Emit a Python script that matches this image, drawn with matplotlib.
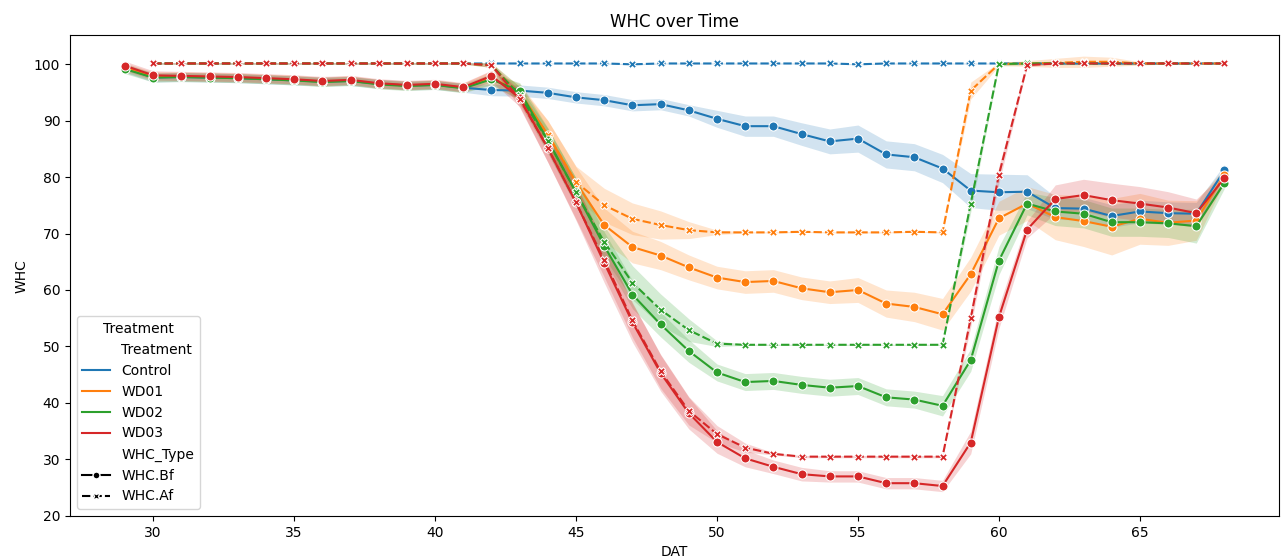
import numpy as np
import matplotlib.pyplot as plt
from matplotlib.lines import Line2D

days = list(range(29, 69))
treatments = ['Control', 'WD01', 'WD02', 'WD03']
colors = ['#1f77b4', '#ff7f0e', '#2ca02c', '#d62728']
nan = np.nan

# WHC.Bf means (days 29..68)
bf = {
    'Control': [99.3, 97.6, 97.7, 97.6, 97.5, 97.3, 97.1, 96.9, 97.0, 96.5, 96.2, 96.3, 95.8,
                95.4, 95.3, 94.9, 94.1, 93.6, 92.7, 92.9, 91.8, 90.3, 89.0, 89.0, 87.6, 86.3,
                86.8, 84.0, 83.5, 81.5, 77.6, 77.3, 77.4, 74.5, 74.4, 73.1, 73.9, 73.6, 73.5, 81.2],
    'WD01': [99.4, 97.8, 97.8, 97.7, 97.6, 97.4, 97.2, 96.9, 97.1, 96.5, 96.2, 96.4, 95.8,
             97.6, 95.0, 87.5, 79.0, 71.5, 67.6, 66.1, 64.0, 62.2, 61.4, 61.6, 60.3, 59.6,
             60.0, 57.6, 57.0, 55.7, 62.8, 72.7, 75.3, 72.9, 72.2, 71.2, 72.6, 71.9, 72.3, 80.4],
    'WD02': [99.1, 97.6, 97.7, 97.6, 97.5, 97.3, 97.1, 96.8, 97.0, 96.4, 96.1, 96.3, 95.7,
             97.3, 95.2, 86.5, 77.3, 67.8, 59.2, 53.9, 49.2, 45.4, 43.7, 43.9, 43.2, 42.7,
             43.0, 41.0, 40.6, 39.5, 47.6, 65.2, 75.3, 73.9, 73.5, 72.0, 72.0, 71.8, 71.3, 79.0],
    'WD03': [99.7, 98.0, 97.9, 97.8, 97.7, 97.5, 97.3, 97.0, 97.2, 96.6, 96.3, 96.5, 95.9,
             97.9, 94.0, 85.1, 75.5, 64.8, 54.3, 45.3, 38.2, 33.1, 30.2, 28.7, 27.4, 27.0,
             27.0, 25.8, 25.8, 25.3, 33.0, 55.2, 70.7, 76.1, 76.8, 75.9, 75.3, 74.6, 73.6, 79.8],
}
# WHC.Bf CI half widths
bf_ci = {
    'Control': [0.8]*13 + [1.0]*8 + [1.5, 1.8, 1.8, 2.0, 2.2, 2.4, 2.4, 2.4, 2.5] + [3.0, 3.2, 3.0] + [2.0]*6 + [1.0],
    'WD01': [0.8]*13 + [1.2, 1.5, 2.5, 2.8, 3.0, 2.8, 2.5, 2.2, 2.0, 2.0, 2.0, 2.0, 2.0, 2.2, 2.4, 2.6, 2.8,
                        3.0, 3.0, 3.0, 4.0, 4.5, 5.0, 4.5, 4.0, 3.5, 1.2],
    'WD02': [0.8]*13 + [1.0, 1.5, 2.2, 2.5, 2.5, 2.5, 2.2, 2.0, 1.5, 1.5, 1.5, 1.5, 1.5, 1.5, 1.5, 1.5, 1.8,
                        2.0, 2.5, 2.0, 2.5, 2.5, 2.5, 2.5, 2.5, 3.0, 1.0],
    'WD03': [0.8]*13 + [1.0, 1.5, 2.5, 3.2, 3.5, 3.5, 3.2, 2.8, 2.0, 1.5, 1.2, 1.2, 1.0, 1.0, 1.0, 1.0, 1.0,
                        2.0, 2.0, 1.5, 2.5, 2.8, 3.0, 3.0, 2.8, 2.5, 1.0],
}
# WHC.Af means (no reading on day 29)
af = {
    'Control': [nan] + [100.1]*17 + [99.95, 100.1, 100.1, 100.1, 100.1, 100.1, 100.1, 100.1, 99.95]
               + [100.1]*13,
    'WD01': [nan] + [100.1]*12 + [99.8, 94.5, 87.5, 79.1, 75.0, 72.6, 71.5, 70.6, 70.2, 70.2, 70.2,
                                  70.3, 70.2, 70.2, 70.2, 70.3, 70.2, 95.3, 100.0, 100.1,
                                  100.2, 100.4, 100.4, 100.1, 100.1, 100.1, 100.1],
    'WD02': [nan] + [100.1]*12 + [99.8, 94.5, 86.4, 77.3, 68.5, 61.3, 56.5, 52.9, 50.5, 50.3, 50.3,
                                  50.3, 50.3, 50.3, 50.3, 50.3, 50.3, 75.3, 100.0, 100.1,
                                  100.1, 100.1, 100.1, 100.1, 100.1, 100.1, 100.1],
    'WD03': [nan] + [100.1]*12 + [99.8, 93.8, 85.1, 75.5, 65.3, 54.6, 45.6, 38.6, 34.5, 32.1, 31.0,
                                  30.5, 30.5, 30.5, 30.5, 30.5, 30.5, 55.0, 80.4, 99.8,
                                  100.1, 100.1, 100.1, 100.1, 100.1, 100.1, 100.1],
}
af_ci = {
    'Control': [0.0] + [0.1]*39,
    'WD01': [0.0] + [0.1]*12 + [0.4, 1.5, 2.5, 2.8, 3.0, 2.8, 2.5, 1.5, 0.4] + [0.1]*8
            + [1.5, 0.3, 0.5, 0.8, 1.0, 0.8, 0.3, 0.1, 0.1, 0.1],
    'WD02': [0.0] + [0.1]*12 + [0.4, 1.5, 2.2, 2.5, 2.8, 3.0, 2.8, 2.0, 0.5] + [0.1]*8
            + [1.5, 0.3, 0.2, 0.2, 0.2, 0.2, 0.2, 0.1, 0.1, 0.1],
    'WD03': [0.0] + [0.1]*12 + [0.4, 1.5, 2.5, 3.0, 3.0, 3.0, 3.0, 2.5, 1.5, 0.8] + [0.2]*7
            + [1.5, 1.5, 0.3, 0.1, 0.1, 0.1, 0.1, 0.1, 0.1, 0.1],
}

fig = plt.figure(figsize=(12.82, 5.59), dpi=100)
ax = fig.add_axes([0.0546, 0.077, 0.9434, 0.86])

x = np.array(days)
for t, c in zip(treatments, colors):
    for data, ci, ls, mk, ms in [(bf, bf_ci, '-', 'o', 6.5), (af, af_ci, (0, (4, 1.5)), 'X', 6)]:
        y = np.array(data[t], dtype=float)
        e = np.array(ci[t], dtype=float)
        ax.fill_between(x, y - e, y + e, color=c, alpha=0.2, linewidth=0)
        ax.plot(x, y, color=c, linestyle=ls, linewidth=1.5, marker=mk,
                markersize=ms, markeredgecolor='white', markeredgewidth=0.75)

ax.set_xlim(27.05, 69.95)
ax.set_ylim(20, 105.1)
ax.set_title('WHC over Time', fontsize=12)
ax.set_xlabel('DAT')
ax.set_ylabel('WHC')

blank = Line2D([], [], linestyle='none')
handles = [blank] + [Line2D([], [], color=c, lw=1.5) for c in colors] + [blank,
           Line2D([], [], color='k', lw=1.5, marker='o', markersize=5, markeredgecolor='white'),
           Line2D([], [], color='k', lw=1.5, linestyle=(0, (4, 1.5)), marker='X', markersize=5,
                  markeredgecolor='white')]
labels = ['Treatment'] + treatments + ['WHC_Type', 'WHC.Bf', 'WHC.Af']
ax.legend(handles, labels, title='Treatment', loc='lower left')

plt.savefig('out.png', dpi=100)
